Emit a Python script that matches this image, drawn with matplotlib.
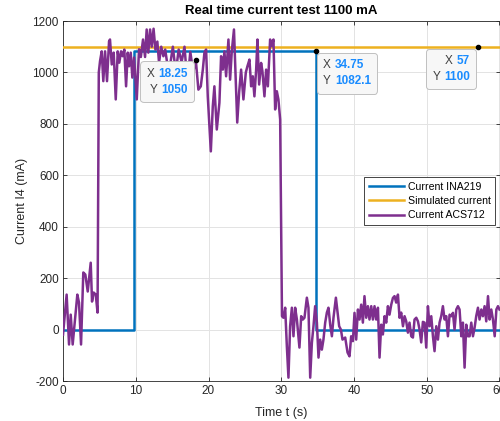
import matplotlib
matplotlib.use("Agg")
import matplotlib.pyplot as plt
from matplotlib.offsetbox import TextArea, HPacker, VPacker, AnnotationBbox

plt.rcParams['font.family'] = ['Liberation Sans', 'DejaVu Sans']
plt.rcParams['axes.unicode_minus'] = False

# ---------------- data ----------------
sim_t = [0, 60]
sim_y = [1100, 1100]

ina_t = [0, 9.75, 9.75, 34.75, 34.75, 60]
ina_y = [0, 0, 1082.1, 1082.1, 0, 0]

acs_t = [0.0, 0.5, 0.83, 1.06, 1.33, 1.97, 2.2, 2.48, 2.79, 3.07, 3.4, 3.81, 3.99, 4.22, 4.5, 4.75,
         4.92, 5.09, 5.32, 5.54, 5.78, 6.05, 6.33, 6.46, 6.7, 6.97, 7.25, 7.52, 7.74, 7.98, 8.21, 8.43,
         8.67, 8.9, 9.08, 9.31, 9.53, 9.77, 10.14, 10.45, 10.7, 11.0, 11.28, 11.5, 11.73, 11.97, 12.2,
         12.45, 12.7, 12.97, 13.2, 13.5, 13.8, 14.05, 14.3, 14.7, 15.1, 15.5, 15.9, 16.3, 16.7, 17.1,
         17.5, 17.9, 18.25, 18.61, 18.94, 19.22, 19.44, 19.67, 19.9, 20.12, 20.32, 20.59, 20.81, 21.14,
         21.5, 21.73, 21.97, 22.19, 22.42, 22.74, 22.97, 23.2, 23.5, 23.75, 23.95, 24.21, 24.48, 24.8,
         25.13, 25.35, 25.63, 25.86, 26.09, 26.31, 26.55, 26.73, 26.96, 27.23, 27.41, 27.69, 27.92,
         28.16, 28.47, 28.7, 28.93, 29.16, 29.39, 29.61, 29.85, 30.1, 30.3, 30.54, 30.77, 30.99, 31.22,
         31.46, 31.68, 31.91, 32.15, 32.5, 32.74, 32.97, 33.19, 33.52, 33.74, 33.98, 34.21, 34.43,
         34.66, 34.9, 35.12, 35.35, 35.58, 35.8, 36.04, 36.27, 36.49, 36.73, 36.96, 37.18, 37.51,
         37.73, 37.96, 38.2, 38.42, 38.79, 39.11, 39.38, 39.61, 39.85, 40.07, 40.3, 40.54, 40.76,
         40.99, 41.22, 41.44, 41.68, 41.91, 42.13, 42.37, 42.6, 42.82, 43.05, 43.29, 43.51, 43.74,
         43.97, 44.2, 44.43, 44.66, 44.88, 45.12, 45.35, 45.57, 45.8, 46.04, 46.26, 46.49, 46.73,
         46.95, 47.18, 47.41, 47.63, 47.87, 48.1, 48.32, 48.56, 48.79, 49.01, 49.24, 49.47, 49.7,
         49.93, 50.16, 50.39, 50.62, 50.85, 51.07, 51.31, 51.54, 51.76, 51.99, 52.22, 52.45, 52.68,
         52.91, 53.14, 53.37, 53.6, 53.82, 54.06, 54.29, 54.51, 54.75, 54.97, 55.2, 55.43, 55.66,
         55.89, 56.12, 56.35, 56.57, 56.8, 57.04, 57.26, 57.5, 57.72, 57.95, 58.18, 58.42, 58.64,
         58.87, 59.1, 59.34, 59.57, 59.79, 60.0]
acs_y = [-20, 136, -58, 58, -58, 136, 105, -58, 222, 214, 148, 260, 109, 144, 136, 66,
         1000, 1044, 1082, 966, 1082, 966, 1121, 1128, 1031, 1077, 895, 1082, 1038, 1082, 1063, 1089,
         946, 1077, 1024, 1077, 980, 1058, 895, 1090, 1060, 1128, 1060, 1167, 1077, 1167, 1100,
         1170, 1089, 1120, 1038, 1100, 1063, 1089, 1040, 1024, 1100, 1000, 1089, 1040, 1100, 960,
         1080, 1000, 1050, 933, 946, 1011, 1077, 1089, 907, 791, 693, 868, 946, 778,
         882, 1063, 1011, 1082, 985, 1128, 972, 1082, 1167, 960, 805, 922, 1011, 895,
         1000, 1024, 1050, 946, 985, 907, 1011, 1128, 953, 1037, 1005, 907, 1011,
         946, 1128, 1102, 1128, 856, 927, 895, 817, 52, 46, 85, -65, -187, 13,
         85, -26, 85, 39, -70, 52, 39, 46, 124, 85, -187, -51, 13,
         91, 27, -109, -39, -78, -39, 27, 66, 85, 19, -26, 46, 124,
         71, 13, 0, -39, -31, -89, -104, -26, -45, 65, -39, 78, 39,
         97, 27, 130, 46, 91, 39, 91, 39, 91, 39, 85, -109, 19,
         -19, 52, 27, 91, 58, 97, 123, 130, 105, 136, 46, 66, 13,
         52, 32, -12, 27, -26, -31, 39, 46, 32, 0, -50, 30, 27,
         -70, 91, 13, 52, -26, -84, 13, -39, 27, 52, 91, 39, 52,
         -26, 58, 52, 65, 0, 78, 91, 78, -26, 27, -148, 19, -26,
         -26, 27, -26, 6, 52, 85, 39, 78, 52, 91, 32, 130, 39,
         78, 39, -26, 78, 91, 78]

tips = [(18.25, 1050), (34.75, 1082.1), (57, 1100)]
tip_labels = [("18.25", "1050"), ("34.75", "1082.1"), ("57", "1100")]

x_ticks = [0, 10, 20, 30, 40, 50, 60]
y_ticks = [-200, 0, 200, 400, 600, 800, 1000, 1200]

# ---------------- figure ----------------
C_BLUE = '#0072BD'
C_YEL = '#EDB120'
C_PUR = '#7E2F8E'
C_AX = '#262626'

fig = plt.figure(figsize=(5, 4.21), dpi=100)
ax = fig.add_axes([63 / 500, 1 - 381 / 421, (499.5 - 63) / 500, 360 / 421])

ax.plot(ina_t, ina_y, color=C_BLUE, lw=1.8, label='Current INA219', zorder=3)
ax.plot(sim_t, sim_y, color=C_YEL, lw=1.8, label='Simulated current', zorder=3)
ax.plot(acs_t, acs_y, color=C_PUR, lw=1.8, label='Current ACS712', zorder=4)

ax.set_xlim(0, 60)
ax.set_ylim(-200, 1200)
ax.set_xticks(x_ticks)
ax.set_yticks(y_ticks)
ax.grid(True, color='#e3e3e3', lw=0.7, zorder=0)
ax.set_axisbelow(True)
ax.tick_params(direction='in', length=3, width=0.6, colors=C_AX, labelsize=8.5,
               top=True, right=True, pad=3)
for s in ax.spines.values():
    s.set_color(C_AX)
    s.set_linewidth(0.6)

ax.set_title('Real time current test 1100 mA', fontsize=9.5, fontweight='bold',
             color='#000000', pad=5)
ax.set_xlabel('Time t (s)', fontsize=9, color=C_AX, labelpad=7)
ax.set_ylabel('Current I4 (mA)', fontsize=9, color=C_AX, labelpad=3)

leg = ax.legend(loc='center right', fontsize=7.6, frameon=True, fancybox=False,
                edgecolor=C_AX, framealpha=1, handlelength=3.4, handletextpad=0.3,
                borderpad=0.4, labelspacing=0.42, borderaxespad=0.45)
leg.get_frame().set_linewidth(0.6)

# ---------------- data tips ----------------
offsets = [((-5.6, -5.8), (1, 1), 'right'),
           ((5.0, -5.6), (0, 1), 'left'),
           ((-5.4, -6.0), (1, 1), 'right')]
for (tx, ty), (xs, ys), (off, align, hal) in zip(tips, tip_labels, offsets):
    ax.plot([tx], [ty], 'o', color='k', ms=3, zorder=6)
    rows = []
    for lab, val in (("X", xs), ("Y", ys)):
        rows.append(HPacker(children=[
            TextArea(lab, textprops=dict(color='#404040', fontsize=8.5)),
            TextArea(val, textprops=dict(color='#1a8cff', fontsize=8.5, fontweight='bold'))],
            align='baseline', pad=0, sep=3))
    box = VPacker(children=rows, align=hal, pad=0, sep=3)
    ab = AnnotationBbox(box, (tx, ty), xybox=off, xycoords='data', boxcoords='offset points',
                        box_alignment=align, pad=0.45, frameon=True,
                        bboxprops=dict(boxstyle='round,pad=0.45,rounding_size=0.25',
                                       fc='#f7f7f7', ec='#c0c0c0', lw=0.7))
    ab.set_zorder(7)
    ax.add_artist(ab)

fig.savefig('out.png', dpi=100)
